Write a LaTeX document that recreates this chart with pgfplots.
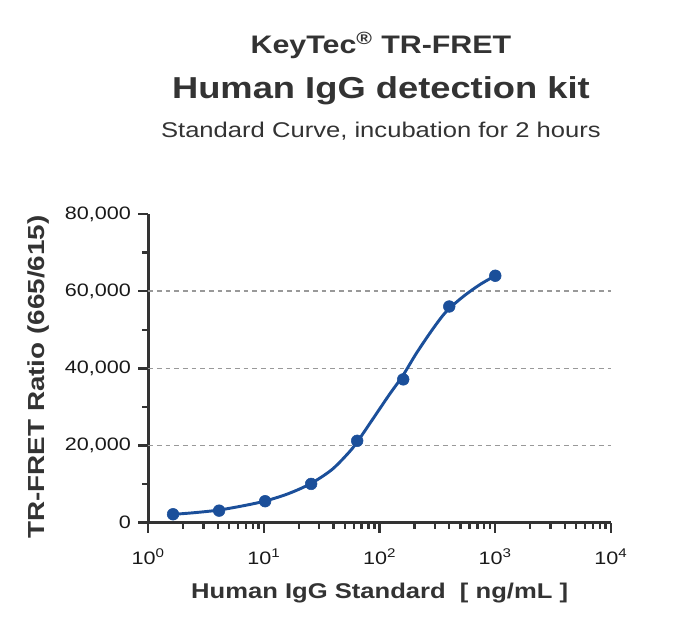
\documentclass[border=0pt]{standalone}
\usepackage{fontspec}
\setmainfont[FakeStretch=1.2]{Liberation Sans}
\usepackage{pgfplots}
\pgfplotsset{compat=1.18}
\definecolor{curveblue}{HTML}{1B4F9A}
\definecolor{axisgray}{HTML}{333333}
\definecolor{textgray}{HTML}{333333}
\begin{document}
\begin{tikzpicture}[x=1pt,y=1pt]
\useasboundingbox (-111.2,-79.7) rectangle (401.8,392.0);
\begin{axis}[
  at={(0,0)}, anchor=south west,
  scale only axis, width=347pt, height=231.5pt,
  xmode=log, log basis x=10,
  xmin=1, xmax=10000, ymin=0, ymax=80000,
  scaled y ticks=false,
  axis x line*=bottom, axis y line*=left,
  axis line style={axisgray, line width=2.2pt},
  tick style={axisgray, line width=1.8pt},
  tick align=outside,
  major tick length=7.5pt, minor tick length=4.5pt,
  xtick={1,10,100,1000,10000},
  minor xtick={2,3,4,5,6,7,8,9,20,30,40,50,60,70,80,90,200,300,400,500,600,700,800,900,2000,3000,4000,5000,6000,7000,8000,9000},
  xticklabels={10\textsuperscript{0},10\textsuperscript{1},10\textsuperscript{2},10\textsuperscript{3},10\textsuperscript{4}},
  ytick={0,20000,40000,60000,80000},
  yticklabels={0,{20,000},{40,000},{60,000},{80,000}},
  minor ytick={10000,30000,50000,70000},
  extra y ticks={20000,40000,60000},
  extra y tick labels={},
  extra y tick style={ymajorgrids=true, major tick length=0pt},
  major grid style={black!40, line width=1.1pt, dash pattern=on 3.5pt off 3pt},
  tick label style={font=\fontsize{13.5}{16}\selectfont, text=black!90},
  xticklabel style={yshift=-8.5pt},
  yticklabel style={xshift=-2pt},
  xlabel={Human IgG Standard\ \ [ ng/mL ]},
  ylabel={TR-FRET Ratio (665/615)},
  xlabel style={font=\bfseries\fontsize{16}{19}\selectfont, text=textgray, at={(axis description cs:0.5,-0.228)}, anchor=center},
  ylabel style={font=\bfseries\fontsize{17.4}{20}\selectfont, text=textgray, at={(axis description cs:-0.238,0.472)}, anchor=center},
  clip=false,
]
\addplot[curveblue, line width=2.2pt, smooth, no markers] coordinates {
(1.6384,2150) (2.53,2600) (4.03,3250) (6.41,4300) (10.2,5600) (16.2,7500)
(25.3,10100) (38.5,13700) (53.5,18000) (64,20900) (88,27000) (122.7,33400)
(158,38000) (209,44000) (290,50300) (379,54800) (528,58600) (736,61700) (1000,64000)
};
\addplot[only marks, mark=*, mark size=4.4pt, mark options={fill=curveblue, draw=curveblue}] coordinates {
(1.6384,2180) (4.096,3120) (10.24,5560) (25.6,10050) (64,21220) (160,37140) (400,56030) (1000,64000)
};
\end{axis}
\node[anchor=base, text=textgray, font=\bfseries\fontsize{19}{22}\selectfont] at (174.5,352) {KeyTec\textsuperscript{®} TR-FRET};
\node[anchor=base, text=textgray, font=\bfseries\fontsize{22.7}{26}\selectfont] at (174.5,318.3) {Human IgG detection kit};
\node[anchor=base, text=textgray, font=\fontsize{16}{19}\selectfont] at (174.5,288.5) {Standard Curve,\ incubation for 2 hours};
\end{tikzpicture}
\end{document}
